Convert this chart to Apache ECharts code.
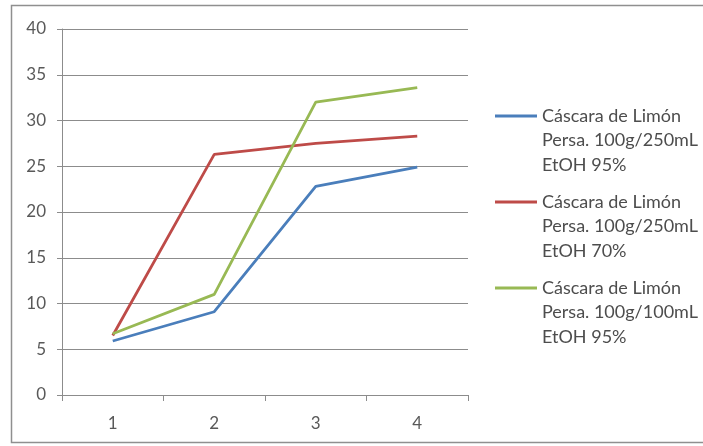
<!DOCTYPE html>
<html>
<head>
<meta charset="utf-8">
<script src="https://cdn.jsdelivr.net/npm/echarts@6/dist/echarts.min.js"></script>
<style>
  html, body { margin: 0; padding: 0; background: #fff; }
  #chart { width: 703px; height: 446px; }
</style>
</head>
<body>
<div id="chart"></div>
<script>
// Extraction yield per stage for three lemon-peel preparations
const categories = ['1', '2', '3', '4'];
const seriesNames = [
  'Cáscara de Limón\nPersa. 100g/250mL\nEtOH 95%',
  'Cáscara de Limón\nPersa. 100g/250mL\nEtOH 70%',
  'Cáscara de Limón\nPersa. 100g/100mL\nEtOH 95%'
];
const peel250Etoh95 = [5.9, 9.1, 22.8, 24.9];
const peel250Etoh70 = [6.5, 26.3, 27.5, 28.3];
const peel100Etoh95 = [6.7, 11.0, 32.0, 33.6];
const seriesValues = [peel250Etoh95, peel250Etoh70, peel100Etoh95];
const seriesColors = ['#4A7EBB', '#BE4B48', '#98B954'];
const yTicks = { min: 0, max: 40, step: 5 };

const FONT = 'Lato';
const LINE_H = 24.5;
const legendIconCenters = [116, 202, 288];

const chart = echarts.init(document.getElementById('chart'));

// One legend per series; two leading blank lines keep the swatch beside the first text line
const legends = seriesNames.map((name, i) => ({
  data: [name],
  orient: 'vertical',
  left: 495,
  top: legendIconCenters[i] - 2.5 * LINE_H,
  padding: 0,
  icon: 'rect',
  itemWidth: 42,
  itemHeight: 3,
  selectedMode: false,
  formatter: (n) => '\n\n' + n,
  textStyle: {
    fontFamily: FONT,
    fontSize: 18,
    color: '#4d4d4d',
    lineHeight: LINE_H
  }
}));

chart.setOption({
  animation: false,
  backgroundColor: '#ffffff',
  graphic: [{
    type: 'rect',
    shape: { x: 11.5, y: 5.5, width: 720, height: 437 },
    style: { fill: 'none', stroke: '#8f8f8f', lineWidth: 1.5 },
    silent: true,
    z: -10
  }],
  legend: legends,
  grid: {
    left: 62,
    top: 29,
    right: 235,
    bottom: 51,
    containLabel: false,
    outerBoundsMode: 'none'
  },
  xAxis: {
    type: 'category',
    data: categories,
    boundaryGap: true,
    axisLine: { show: true, lineStyle: { color: '#8c8c8c', width: 1 } },
    axisTick: { show: true, length: 6, lineStyle: { color: '#8c8c8c' } },
    axisLabel: { fontFamily: FONT, fontSize: 17, color: '#595959', margin: 20 },
    splitLine: { show: false }
  },
  yAxis: {
    type: 'value',
    min: yTicks.min,
    max: yTicks.max,
    interval: yTicks.step,
    axisLine: { show: true, lineStyle: { color: '#8c8c8c', width: 1 } },
    axisTick: { show: true, length: 5, lineStyle: { color: '#8c8c8c' } },
    axisLabel: { fontFamily: FONT, fontSize: 17, color: '#595959', margin: 16 },
    splitLine: { show: true, lineStyle: { color: '#8c8c8c', width: 1 } }
  },
  series: seriesNames.map((name, i) => ({
    name: name,
    type: 'line',
    data: seriesValues[i],
    symbol: 'none',
    color: seriesColors[i],
    lineStyle: { width: 2.8, color: seriesColors[i] }
  }))
});
</script>
</body>
</html>
